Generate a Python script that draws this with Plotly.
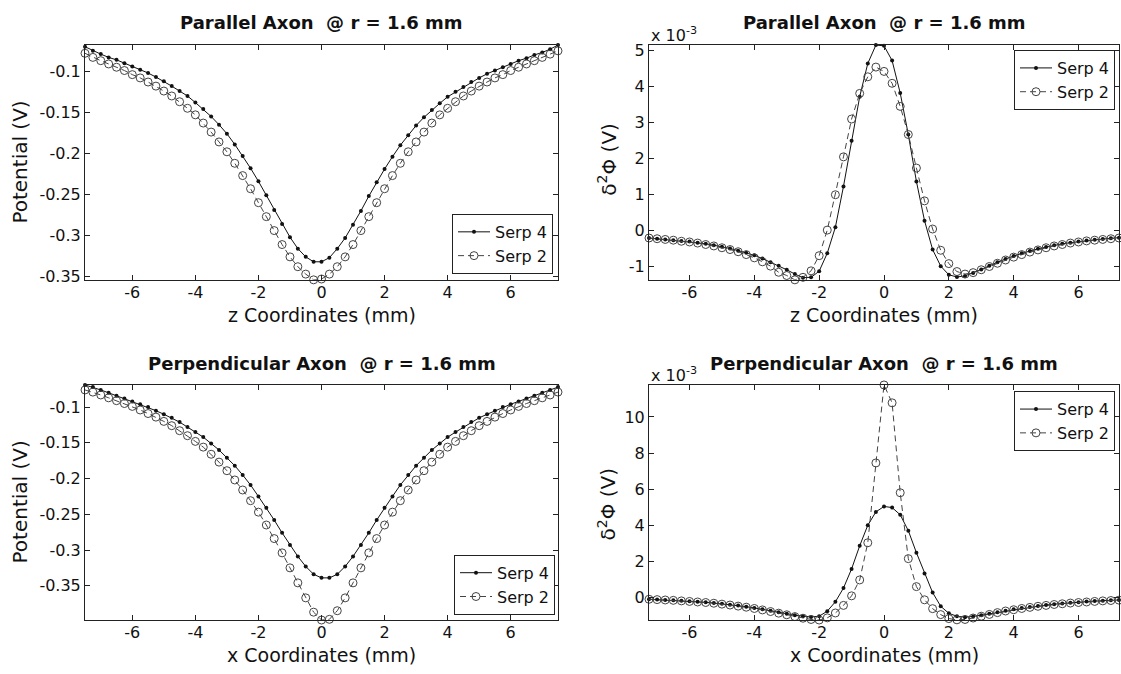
import plotly.graph_objects as go

# ---------------- data ----------------
# positions along the axon (mm)
pos_mm = [-7.5, -7.25, -7.0, -6.75, -6.5, -6.25, -6.0, -5.75, -5.5, -5.25, -5.0, -4.75, -4.5, -4.25,
          -4.0, -3.75, -3.5, -3.25, -3.0, -2.75, -2.5, -2.25, -2.0, -1.75, -1.5, -1.25, -1.0, -0.75,
          -0.5, -0.25, 0.0, 0.25, 0.5, 0.75, 1.0, 1.25, 1.5, 1.75, 2.0, 2.25, 2.5, 2.75, 3.0, 3.25,
          3.5, 3.75, 4.0, 4.25, 4.5, 4.75, 5.0, 5.25, 5.5, 5.75, 6.0, 6.25, 6.5, 6.75, 7.0, 7.25, 7.5]
# positions for the second difference (mm)
pos2_mm = [-7.25, -7.0, -6.75, -6.5, -6.25, -6.0, -5.75, -5.5, -5.25, -5.0, -4.75, -4.5, -4.25,
           -4.0, -3.75, -3.5, -3.25, -3.0, -2.75, -2.5, -2.25, -2.0, -1.75, -1.5, -1.25, -1.0, -0.75,
           -0.5, -0.25, 0.0, 0.25, 0.5, 0.75, 1.0, 1.25, 1.5, 1.75, 2.0, 2.25, 2.5, 2.75, 3.0, 3.25,
           3.5, 3.75, 4.0, 4.25, 4.5, 4.75, 5.0, 5.25, 5.5, 5.75, 6.0, 6.25, 6.5, 6.75, 7.0, 7.25]

# Parallel axon potential (V)
par_pot_serp4 = [-0.070, -0.075, -0.079, -0.083, -0.086, -0.090, -0.094, -0.098, -0.102, -0.107,
                 -0.112, -0.118, -0.124, -0.130, -0.138, -0.146, -0.155, -0.165, -0.176, -0.189,
                 -0.203, -0.218, -0.234, -0.251, -0.269, -0.286, -0.302, -0.316, -0.326, -0.332,
                 -0.332, -0.327, -0.316, -0.303, -0.287, -0.270, -0.252, -0.235, -0.219, -0.204,
                 -0.190, -0.178, -0.166, -0.156, -0.147, -0.139, -0.131, -0.125, -0.119, -0.113,
                 -0.108, -0.103, -0.099, -0.095, -0.091, -0.087, -0.084, -0.080, -0.077, -0.073, -0.068]
par_pot_serp2 = [-0.078, -0.083, -0.087, -0.091, -0.095, -0.099, -0.104, -0.108, -0.113, -0.118,
                 -0.124, -0.130, -0.137, -0.145, -0.153, -0.163, -0.174, -0.186, -0.198, -0.212,
                 -0.227, -0.243, -0.260, -0.277, -0.294, -0.311, -0.326, -0.338, -0.347, -0.354,
                 -0.353, -0.347, -0.338, -0.326, -0.311, -0.294, -0.277, -0.260, -0.243, -0.227,
                 -0.212, -0.198, -0.186, -0.174, -0.163, -0.153, -0.145, -0.137, -0.130, -0.124,
                 -0.118, -0.113, -0.108, -0.104, -0.099, -0.095, -0.091, -0.087, -0.083, -0.079, -0.075]

# Perpendicular axon potential (V)
perp_pot_serp4 = [-0.069, -0.072, -0.076, -0.080, -0.084, -0.088, -0.092, -0.096, -0.100, -0.105,
                  -0.110, -0.115, -0.121, -0.128, -0.135, -0.142, -0.151, -0.160, -0.171, -0.182,
                  -0.195, -0.209, -0.225, -0.241, -0.258, -0.276, -0.293, -0.309, -0.323, -0.334,
                  -0.339,
                  -0.339, -0.334, -0.323, -0.309, -0.293, -0.276, -0.258, -0.241, -0.225, -0.209,
                  -0.195, -0.182, -0.171, -0.160, -0.151, -0.142, -0.135, -0.128, -0.121, -0.115,
                  -0.110, -0.105, -0.100, -0.096, -0.092, -0.088, -0.084, -0.080, -0.076, -0.072]
perp_pot_serp2 = [-0.076, -0.079, -0.083, -0.087, -0.091, -0.095, -0.099, -0.104, -0.109, -0.114,
                  -0.120, -0.126, -0.133, -0.140, -0.148, -0.156, -0.166, -0.177, -0.189, -0.202,
                  -0.216, -0.231, -0.247, -0.265, -0.284, -0.304, -0.325, -0.346, -0.367, -0.387,
                  -0.398,
                  -0.397, -0.385, -0.367, -0.346, -0.325, -0.304, -0.284, -0.265, -0.247, -0.231,
                  -0.216, -0.202, -0.189, -0.177, -0.166, -0.156, -0.148, -0.140, -0.133, -0.126,
                  -0.120, -0.114, -0.109, -0.104, -0.099, -0.095, -0.091, -0.087, -0.083, -0.079]

# Second difference of potential (x 10^-3 V)
par_d2_serp4 = [-0.20, -0.22, -0.24, -0.26, -0.28, -0.30, -0.33, -0.36, -0.40, -0.44,
                -0.49, -0.55, -0.61, -0.68, -0.77, -0.87, -0.97, -1.08, -1.20, -1.30,
                -1.29, -1.12, -0.62, 0.10, 1.23, 2.50, 3.72, 4.64, 5.15,
                5.13, 4.72, 3.82, 2.67, 1.37, 0.28, -0.52, -0.98, -1.22, -1.28,
                -1.25, -1.17, -1.07, -0.97, -0.87, -0.78, -0.70, -0.62, -0.56, -0.50,
                -0.45, -0.40, -0.36, -0.33, -0.30, -0.27, -0.25, -0.23, -0.21, -0.19]
par_d2_serp2 = [-0.20, -0.22, -0.24, -0.26, -0.29, -0.31, -0.34, -0.38, -0.42, -0.47,
                -0.52, -0.58, -0.66, -0.75, -0.86, -0.98, -1.15, -1.24, -1.36, -1.29,
                -1.11, -0.69, 0.02, 1.00, 2.05, 3.10, 3.81, 4.27, 4.54,
                4.42, 4.09, 3.45, 2.67, 1.74, 0.83, 0.05, -0.54, -0.91, -1.13,
                -1.20, -1.16, -1.08, -0.99, -0.90, -0.81, -0.73, -0.66, -0.59, -0.53,
                -0.47, -0.42, -0.38, -0.34, -0.31, -0.28, -0.26, -0.24, -0.22, -0.20]
perp_d2_serp4 = [-0.10, -0.12, -0.14, -0.16, -0.18, -0.21, -0.24, -0.27, -0.31, -0.35,
                 -0.40, -0.45, -0.51, -0.58, -0.65, -0.73, -0.82, -0.90, -0.98, -1.04,
                 -1.08, -1.04, -0.76, -0.24, 0.52, 1.58, 2.86, 4.00, 4.74,
                 5.04, 4.98, 4.58, 3.70, 2.48, 1.33, 0.27, -0.49, -0.88, -1.04,
                 -1.09, -1.05, -0.98, -0.90, -0.82, -0.74, -0.66, -0.59, -0.53, -0.47,
                 -0.42, -0.37, -0.33, -0.29, -0.26, -0.23, -0.20, -0.18, -0.16, -0.14]
perp_d2_serp2 = [-0.10, -0.12, -0.14, -0.16, -0.19, -0.22, -0.25, -0.28, -0.32, -0.37,
                 -0.42, -0.48, -0.54, -0.61, -0.69, -0.78, -0.87, -0.96, -1.06, -1.15,
                 -1.22, -1.25, -1.13, -0.86, -0.44, 0.09, 0.97, 3.03, 7.45,
                 11.77, 10.78, 5.80, 2.15, 0.60, -0.13, -0.62, -0.95, -1.17, -1.24,
                 -1.22, -1.14, -1.04, -0.94, -0.84, -0.75, -0.68, -0.61, -0.55, -0.49,
                 -0.44, -0.39, -0.35, -0.31, -0.28, -0.25, -0.22, -0.19, -0.17, -0.15]

series_names = ["Serp 4", "Serp 2"]
x_ticks = [-6, -4, -2, 0, 2, 4, 6]
x_ticktext = ["-6", "-4", "-2", "0", "2", "4", "6"]
pot_ticks = [-0.35, -0.3, -0.25, -0.2, -0.15, -0.1]
pot_ticktext = ["-0.35", "-0.3", "-0.25", "-0.2", "-0.15", "-0.1"]
par_d2_ticks = [-1, 0, 1, 2, 3, 4, 5]
par_d2_ticktext = ["-1", "0", "1", "2", "3", "4", "5"]
perp_d2_ticks = [0, 2, 4, 6, 8, 10]
perp_d2_ticktext = ["0", "2", "4", "6", "8", "10"]

panel_titles = ["Parallel Axon\u00a0 @ r = 1.6 mm", "Parallel Axon\u00a0 @ r = 1.6 mm",
                "Perpendicular Axon\u00a0 @ r = 1.6 mm", "Perpendicular Axon\u00a0 @ r = 1.6 mm"]

# ---------------- figure ----------------
W, H = 1121, 674
FONT = "DejaVu Sans"


def px(x, y):
    return x / W, 1 - y / H


fig = go.Figure()

panels = [
    # (xdata, serp4, serp2, xaxis id, yaxis id, legend id)
    (pos_mm, par_pot_serp4, par_pot_serp2, "x", "y", "legend"),
    (pos2_mm, par_d2_serp4, par_d2_serp2, "x2", "y2", "legend2"),
    (pos_mm, perp_pot_serp4, perp_pot_serp2, "x3", "y3", "legend3"),
    (pos2_mm, perp_d2_serp4, perp_d2_serp2, "x4", "y4", "legend4"),
]

for xs, s4, s2, xa, ya, lg in panels:
    fig.add_trace(go.Scatter(
        x=xs, y=s4, name=series_names[0], mode="lines+markers",
        xaxis=xa, yaxis=ya, legend=lg, cliponaxis=False,
        line=dict(color="#111111", width=1),
        marker=dict(symbol="circle", size=4, color="#111111"),
    ))
    fig.add_trace(go.Scatter(
        x=xs, y=s2, name=series_names[1], mode="lines+markers",
        xaxis=xa, yaxis=ya, legend=lg, cliponaxis=False,
        line=dict(color="#444444", width=1, dash="6px,4px"),
        marker=dict(symbol="circle-open", size=8, color="#444444", line=dict(width=1, color="#444444")),
    ))

axis_common = dict(
    showline=True, linecolor="#222222", linewidth=1, mirror="allticks",
    ticks="inside", ticklen=5, tickwidth=1, tickcolor="#222222",
    showgrid=False, zeroline=False,
    tickfont=dict(family=FONT, size=16, color="#111111"),
)
xaxis_common = dict(ticklabelstandoff=-2, **axis_common)

xl = [85 / W, 558 / W]
xr = [649 / W, 1119 / W]
yt = [1 - 280 / H, 1 - 41.7 / H]
yb = [1 - 625.3 / H, 1 - 386.7 / H]

fig.update_layout(
    width=W, height=H,
    margin=dict(l=0, r=0, t=0, b=0),
    paper_bgcolor="white", plot_bgcolor="white",
    showlegend=True,
    xaxis=dict(domain=xl, anchor="y", range=[-7.5, 7.5], tickvals=x_ticks, ticktext=x_ticktext, **xaxis_common),
    yaxis=dict(domain=yt, anchor="x", range=[-0.354, -0.068], tickvals=pot_ticks, ticktext=pot_ticktext, **axis_common),
    xaxis2=dict(domain=xr, anchor="y2", range=[-7.25, 7.25], tickvals=x_ticks, ticktext=x_ticktext, **xaxis_common),
    yaxis2=dict(domain=yt, anchor="x2", range=[-1.36, 5.15], tickvals=par_d2_ticks, ticktext=par_d2_ticktext, **axis_common),
    xaxis3=dict(domain=xl, anchor="y3", range=[-7.5, 7.5], tickvals=x_ticks, ticktext=x_ticktext, **xaxis_common),
    yaxis3=dict(domain=yb, anchor="x3", range=[-0.398, -0.069], tickvals=pot_ticks, ticktext=pot_ticktext, **axis_common),
    xaxis4=dict(domain=xr, anchor="y4", range=[-7.25, 7.25], tickvals=x_ticks, ticktext=x_ticktext, **xaxis_common),
    yaxis4=dict(domain=yb, anchor="x4", range=[-1.25, 11.77], tickvals=perp_d2_ticks, ticktext=perp_d2_ticktext, **axis_common),
)

legend_style = dict(
    bgcolor="white", bordercolor="#222222", borderwidth=1,
    font=dict(family=FONT, size=16, color="#111111"),
    itemwidth=32, tracegroupgap=0,
)
lx, ly = px(553, 274)
fig.update_layout(legend=dict(x=lx, y=ly, xanchor="right", yanchor="bottom", **legend_style))
lx, ly = px(1115, 46.7)
fig.update_layout(legend2=dict(x=lx, y=ly, xanchor="right", yanchor="top", **legend_style))
lx, ly = px(555, 620)
fig.update_layout(legend3=dict(x=lx, y=ly, xanchor="right", yanchor="bottom", **legend_style))
lx, ly = px(1115, 393)
fig.update_layout(legend4=dict(x=lx, y=ly, xanchor="right", yanchor="top", **legend_style))

annotations = []


def add_text(text, x, y, size, bold=False, angle=0, xanchor="center"):
    ax, ay = px(x, y)
    annotations.append(dict(
        text=f"<b>{text}</b>" if bold else text, x=ax, y=ay, xref="paper", yref="paper",
        showarrow=False, textangle=angle, xanchor=xanchor, yanchor="middle",
        font=dict(family=FONT, size=size, color="#111111"),
    ))


# panel titles
add_text(panel_titles[0], 321.5, 18.5, 18, bold=True)
add_text(panel_titles[1], 884, 18.5, 18, bold=True)
add_text(panel_titles[2], 321.5, 365, 18, bold=True)
add_text(panel_titles[3], 884, 365, 18, bold=True)
# x-axis titles
add_text("z Coordinates (mm)", 321.5, 316, 19)
add_text("z Coordinates (mm)", 884, 316, 19)
add_text("x Coordinates (mm)", 321.5, 661, 19)
add_text("x Coordinates (mm)", 884, 661, 19)
# y-axis titles
add_text("Potential (V)", 20, 161, 20, angle=-90)
add_text("Potential (V)", 20, 506, 20, angle=-90)
add_text("\u03b4<sup>2</sup>\u03a6 (V)", 607, 158, 20, angle=-90)
add_text("\u03b4<sup>2</sup>\u03a6 (V)", 607, 508, 20, angle=-90)
# exponent labels
add_text("x 10<sup>-3</sup>", 649, 31, 16, xanchor="left")
add_text("x 10<sup>-3</sup>", 649, 376, 16, xanchor="left")

fig.update_layout(annotations=annotations)

fig.write_html("out.html")
